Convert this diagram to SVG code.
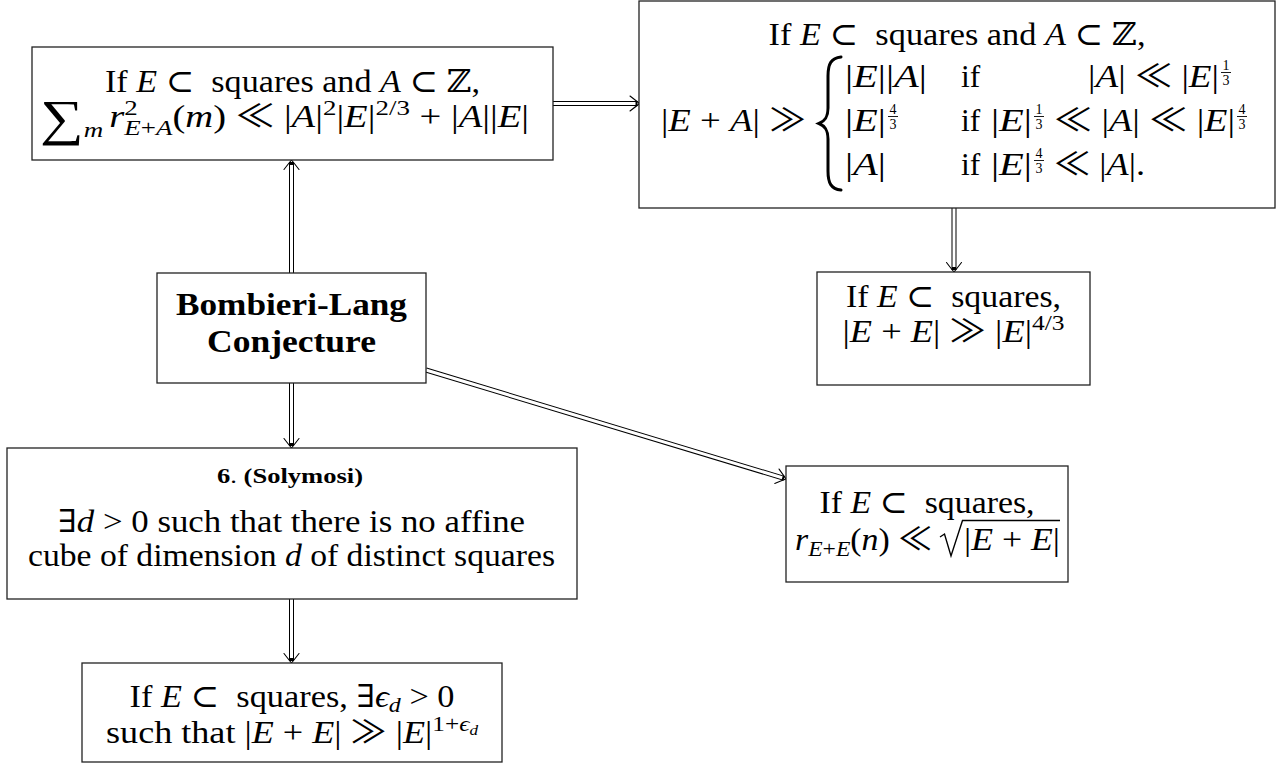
<svg xmlns="http://www.w3.org/2000/svg" xmlns:xlink="http://www.w3.org/1999/xlink" width="1279" height="778" viewBox="0 0 1279 778">
<style>
.t{font-family:"Liberation Serif","DejaVu Serif",serif;font-size:31.5px;fill:#000}
.i{font-style:italic}
.b{font-weight:bold}
.s{font-size:22px}
.ss{font-size:14px}
.rel{font-family:"Noto Sans CJK JP","DejaVu Sans",sans-serif;font-weight:normal;font-style:normal}
.box{fill:#fff;stroke:#222;stroke-width:1.3}
.o{stroke:#000;stroke-width:5;fill:none}
.in{stroke:#fff;stroke-width:3;fill:none}
.tip{stroke:#000;stroke-width:1.1;fill:none;stroke-linecap:round;stroke-linejoin:round}
.fb{stroke:#000;stroke-width:0.9}
</style>
<defs>
<path id="tip" class="tip" d="M -9.5,-7.5 Q -3,-2.5 0,0 Q -3,2.5 -9.5,7.5"/>
</defs>
<rect width="1279" height="778" fill="#fff"/>
<g id="connectors">
<path class="o" d="M291.5 273 V162"/><path class="in" d="M291.5 273 V165"/><use xlink:href="#tip" href="#tip" transform="translate(291.5,160) rotate(-90)"/>
<path class="o" d="M553 103.5 H637.5"/><path class="in" d="M553 103.5 H635.5"/><use xlink:href="#tip" href="#tip" transform="translate(639.5,103.5)"/>
<path class="o" d="M954 208 V270"/><path class="in" d="M954 208 V267"/><use xlink:href="#tip" href="#tip" transform="translate(954,272) rotate(90)"/>
<path class="o" d="M291.5 383 V446"/><path class="in" d="M291.5 383 V443"/><use xlink:href="#tip" href="#tip" transform="translate(291.5,448) rotate(90)"/>
<path class="o" d="M426 370 L784.1 478.4"/><path class="in" d="M426 370 L782.2 477.8"/><use xlink:href="#tip" href="#tip" transform="translate(786,479) rotate(16.84)"/>
<path class="o" d="M291.5 599 V661"/><path class="in" d="M291.5 599 V658"/><use xlink:href="#tip" href="#tip" transform="translate(291.5,663) rotate(90)"/>
</g>
<g id="node-sumbound">
<rect class="box" x="32" y="47" width="521" height="113"/>
<text class="t" x="292.5" y="92" text-anchor="middle" textLength="375" lengthAdjust="spacingAndGlyphs" xml:space="preserve">If <tspan class="i">E</tspan> ⊂  squares and <tspan class="i">A</tspan> ⊂ ℤ,</text>
<text class="t" x="40" y="127" textLength="489" lengthAdjust="spacingAndGlyphs" xml:space="preserve"><tspan font-size="50" style="font-size:50px" dy="8">∑</tspan><tspan class="s i" dy="2">m</tspan><tspan class="i" dx="5" dy="-10">r</tspan><tspan class="s" dy="-12">2</tspan><tspan class="s i" dx="-11" dy="20">E</tspan><tspan class="s">+</tspan><tspan class="s i">A</tspan><tspan dy="-8">(</tspan><tspan class="i">m</tspan>) <tspan class="rel">≪</tspan> |<tspan class="i">A</tspan>|<tspan class="s" dy="-12">2</tspan><tspan dy="12">|</tspan><tspan class="i">E</tspan>|<tspan class="s" dy="-12">2/3</tspan><tspan dy="12"> + |</tspan><tspan class="i">A</tspan>||<tspan class="i">E</tspan>|</text>
</g>
<g id="node-sumset">
<rect class="box" x="639" y="1" width="636" height="207"/>
<text class="t" x="957" y="45" text-anchor="middle" textLength="377" lengthAdjust="spacingAndGlyphs" xml:space="preserve">If <tspan class="i">E</tspan> ⊂  squares and <tspan class="i">A</tspan> ⊂ ℤ,</text>
<text class="t" x="661" y="131" textLength="145" lengthAdjust="spacingAndGlyphs" xml:space="preserve">|<tspan class="i">E</tspan> + <tspan class="i">A</tspan>| <tspan class="rel">≫</tspan></text>
<path d="M841,57 C831,58 828,64 828,76 L828,108 C828,117 825,121 819,123.5 C825,126 828,130 828,139 L828,171 C828,183 831,189 841,190" fill="none" stroke="#000" stroke-width="3" stroke-linecap="round"/>
<text class="t" x="845" y="87" textLength="82" lengthAdjust="spacingAndGlyphs">|<tspan class="i">E</tspan>||<tspan class="i">A</tspan>|</text>
<text class="t" x="961" y="87">if</text>
<text class="t" x="1088" y="87" textLength="131" lengthAdjust="spacingAndGlyphs" xml:space="preserve">|<tspan class="i">A</tspan>| <tspan class="rel">≪</tspan> |<tspan class="i">E</tspan>|</text>
<text class="t ss" x="1226" y="70" text-anchor="middle">1</text><line class="fb" x1="1221" y1="72.5" x2="1231" y2="72.5"/><text class="t ss" x="1226" y="85" text-anchor="middle">3</text>
<text class="t" x="845" y="131" textLength="41" lengthAdjust="spacingAndGlyphs">|<tspan class="i">E</tspan>|</text>
<text class="t ss" x="893" y="114" text-anchor="middle">4</text><line class="fb" x1="888" y1="116.5" x2="898" y2="116.5"/><text class="t ss" x="893" y="129" text-anchor="middle">3</text>
<text class="t" x="961" y="131">if</text>
<text class="t" x="991" y="131" textLength="41" lengthAdjust="spacingAndGlyphs">|<tspan class="i">E</tspan>|</text>
<text class="t ss" x="1039" y="114" text-anchor="middle">1</text><line class="fb" x1="1034" y1="116.5" x2="1044" y2="116.5"/><text class="t ss" x="1039" y="129" text-anchor="middle">3</text>
<text class="t" x="1054" y="131" textLength="181" lengthAdjust="spacingAndGlyphs" xml:space="preserve"><tspan class="rel">≪</tspan> |<tspan class="i">A</tspan>| <tspan class="rel">≪</tspan> |<tspan class="i">E</tspan>|</text>
<text class="t ss" x="1242" y="114" text-anchor="middle">4</text><line class="fb" x1="1237" y1="116.5" x2="1247" y2="116.5"/><text class="t ss" x="1242" y="129" text-anchor="middle">3</text>
<text class="t" x="845" y="175" textLength="41" lengthAdjust="spacingAndGlyphs">|<tspan class="i">A</tspan>|</text>
<text class="t" x="961" y="175">if</text>
<text class="t" x="991" y="175" textLength="41" lengthAdjust="spacingAndGlyphs">|<tspan class="i">E</tspan>|</text>
<text class="t ss" x="1039" y="158" text-anchor="middle">4</text><line class="fb" x1="1034" y1="160.5" x2="1044" y2="160.5"/><text class="t ss" x="1039" y="173" text-anchor="middle">3</text>
<text class="t" x="1054" y="175" textLength="91" lengthAdjust="spacingAndGlyphs" xml:space="preserve"><tspan class="rel">≪</tspan> |<tspan class="i">A</tspan>|.</text>
</g>
<g id="node-bombieri">
<rect class="box" x="157" y="273" width="269" height="110"/>
<text class="t b" x="291.5" y="315" text-anchor="middle" textLength="231" lengthAdjust="spacingAndGlyphs">Bombieri-Lang</text>
<text class="t b" x="291.5" y="352" text-anchor="middle" textLength="169" lengthAdjust="spacingAndGlyphs">Conjecture</text>
</g>
<g id="node-solymosi">
<rect class="box" x="7" y="448" width="570" height="151"/>
<text class="t b" x="290" y="483" text-anchor="middle" style="font-size:21px" textLength="146" lengthAdjust="spacingAndGlyphs" xml:space="preserve">6<tspan font-weight="normal" style="font-weight:normal">.</tspan> (Solymosi)</text>
<text class="t" x="291.5" y="532" text-anchor="middle" textLength="467" lengthAdjust="spacingAndGlyphs" xml:space="preserve">∃<tspan class="i">d</tspan> &gt; 0 such that there is no affine</text>
<text class="t" x="291.5" y="566" text-anchor="middle" textLength="527" lengthAdjust="spacingAndGlyphs" xml:space="preserve">cube of dimension <tspan class="i">d</tspan> of distinct squares</text>
</g>
<g id="node-growth">
<rect class="box" x="82" y="663" width="420" height="99"/>
<text class="t" x="292" y="707" text-anchor="middle" textLength="325" lengthAdjust="spacingAndGlyphs" xml:space="preserve">If <tspan class="i">E</tspan> ⊂  squares, ∃<tspan class="i">ϵ</tspan><tspan class="s i" dy="5">d</tspan><tspan dy="-5"> &gt; 0</tspan></text>
<text class="t" x="292" y="743" text-anchor="middle" textLength="372" lengthAdjust="spacingAndGlyphs" xml:space="preserve">such that |<tspan class="i">E</tspan> + <tspan class="i">E</tspan>| <tspan class="rel">≫</tspan> |<tspan class="i">E</tspan>|<tspan class="s" dy="-12">1+</tspan><tspan class="s i">ϵ</tspan><tspan class="i" style="font-size:15px" dy="4">d</tspan></text>
</g>
<g id="node-squares43">
<rect class="box" x="817" y="272" width="273" height="113"/>
<text class="t" x="953.5" y="307" text-anchor="middle" textLength="215" lengthAdjust="spacingAndGlyphs" xml:space="preserve">If <tspan class="i">E</tspan> ⊂  squares,</text>
<text class="t" x="953.5" y="342" text-anchor="middle" textLength="222" lengthAdjust="spacingAndGlyphs" xml:space="preserve">|<tspan class="i">E</tspan> + <tspan class="i">E</tspan>| <tspan class="rel">≫</tspan> |<tspan class="i">E</tspan>|<tspan class="s" dy="-12">4/3</tspan></text>
</g>
<g id="node-reprs">
<rect class="box" x="786" y="466" width="282" height="116"/>
<text class="t" x="927" y="513" text-anchor="middle" textLength="215" lengthAdjust="spacingAndGlyphs" xml:space="preserve">If <tspan class="i">E</tspan> ⊂  squares,</text>
<text class="t" x="795" y="550" textLength="137" lengthAdjust="spacingAndGlyphs" xml:space="preserve"><tspan class="i">r</tspan><tspan class="s i" dy="6">E</tspan><tspan class="s">+</tspan><tspan class="s i">E</tspan><tspan dy="-6">(</tspan><tspan class="i">n</tspan>) <tspan class="rel">≪</tspan></text>
<path d="M940,537 L944.5,534 L951,556 L962.5,520.5 L1060,520.5" fill="none" stroke="#000" stroke-width="1.4" stroke-linejoin="miter"/>
<text class="t" x="964" y="550" textLength="96" lengthAdjust="spacingAndGlyphs" xml:space="preserve">|<tspan class="i">E</tspan> + <tspan class="i">E</tspan>|</text>
</g>
</svg>
